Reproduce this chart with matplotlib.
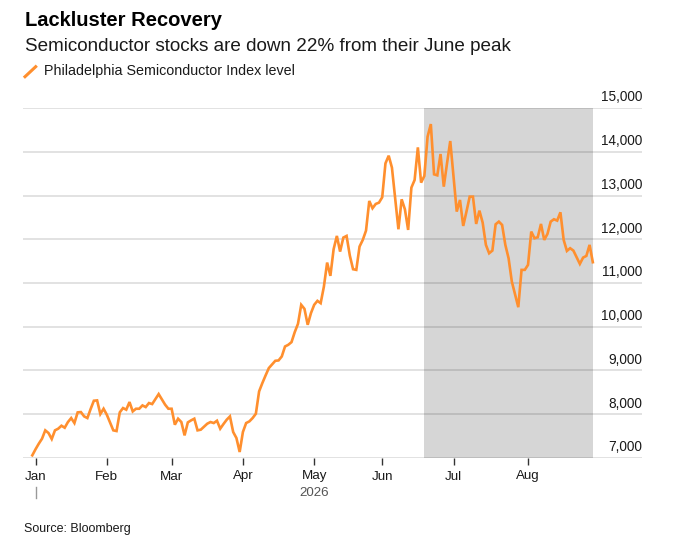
import matplotlib
matplotlib.use('Agg')
import matplotlib.pyplot as plt
import matplotlib.transforms as mtrans
from matplotlib.lines import Line2D
import numpy as np
import pandas as pd

plt.rcParams['font.family'] = ['Liberation Sans', 'DejaVu Sans']

# ---------------- data ----------------
title = "Lackluster Recovery"
subtitle = "Semiconductor stocks are down 22% from their June peak"
series_name = "Philadelphia Semiconductor Index level"
source = "Source: Bloomberg"
year_label = "2026"

start_date = "2025-12-31"   # one value per weekday from here

sox_level = [
    7061, 7200, 7327, 7441, 7632, 7571, 7434, 7632, 7670, 7738, 7692,
    7822, 7913, 7799, 8043, 8050, 7951, 7913, 8119, 8309, 8317,
    8005, 8126, 7989, 7810, 7632, 7616, 8043, 8142, 8104, 8279, 8065,
    8126, 8126, 8202, 8164, 8256, 8233, 8347, 8461, 8340, 8218, 8126,
    8126, 7761, 7898, 7822, 7517, 7814, 7860, 7898, 7632, 7647, 7715,
    7784, 7822, 7799, 7852, 7670, 7776, 7875, 7951, 7594, 7457,
    7137, 7594, 7799, 7837, 7913, 8012, 8522, 8712, 8887, 9055, 9140,
    9222, 9230, 9321, 9549, 9587, 9648, 9877, 10067, 10501, 10409,
    10044, 10311, 10501, 10592, 10539,
    10919, 11467, 11163, 11772, 12076, 11718, 12038, 12076, 11627, 11315,
    11300, 11833, 11985, 12198, 12875, 12708, 12807, 12837, 12959, 13735,
    13910, 13636, 12930, 12228, 12913, 12685, 12213, 13180, 13355, 14100, 13294,
    13446, 14344, 14633, 13484, 13461, 13948, 13202, 13735, 14245, 13431,
    12632, 12898, 12304, 12632, 12974, 12974, 12350, 12654, 12380, 11871,
    11680, 11741, 12342, 12403, 12327, 11871, 11566, 11033, 10740, 10447, 11300,
    11300, 11414, 12175, 12023, 12046, 12350, 11985, 12122, 12403, 12457,
    12426, 12616, 11985, 11733, 11795, 11741, 11590, 11437, 11581, 11619, 11871,
    11475,
]

shade_start = "2026-06-18"

y_ticks = [7000, 8000, 9000, 10000, 11000, 12000, 13000, 14000, 15000]
month_starts = ["2026-01-01", "2026-02-01", "2026-03-01", "2026-04-01",
                "2026-05-01", "2026-06-01", "2026-07-01", "2026-08-01"]
month_labels = ["Jan", "Feb", "Mar", "Apr", "May", "Jun", "Jul", "Aug"]
year_label_month = "2026-05-01"

# ---------------- style ----------------
ORANGE = "#FF8F2E"
SHADE = "#D6D6D6"
TEXT = "#1a1a1a"

dates = pd.bdate_range(start=start_date, periods=len(sox_level), freq='B')
idx = np.arange(len(dates))


def pos(day):
    """index of the first weekday on/after the given date"""
    return int(np.searchsorted(dates.values, np.datetime64(pd.Timestamp(day))))


W, H = 673, 551
fig = plt.figure(figsize=(W / 100, H / 100), dpi=100)
ax = fig.add_axes([23.3 / W, 1 - 458 / H, (642 - 23.3) / W, 350 / H])

px_per_day = 3.24
ax.set_xlim(-(32.3 - 23.3) / px_per_day, (642 - 32.3) / px_per_day)
ax.set_ylim(y_ticks[0], y_ticks[-1])

# shading
ax.axvspan(pos(shade_start), idx[-1], color=SHADE, lw=0, zorder=0)

# gridlines
for v in y_ticks:
    ax.axhline(v, color='black', alpha=0.15, lw=1.1, zorder=1)

# line
ax.plot(idx, sox_level, color=ORANGE, lw=1.9, solid_joinstyle='miter',
        zorder=3)

# y labels (right, above gridlines)
ytrans = mtrans.blended_transform_factory(ax.transAxes, ax.transData)
ytrans = mtrans.offset_copy(ytrans, fig=fig, y=6.5, units='dots')
for v in y_ticks:
    ax.text(1.0, v, f"{v:,}", transform=ytrans, ha='right', va='baseline',
            fontsize=9.8, color=TEXT)

ax.set_yticks([])
ax.set_xticks([pos(m) for m in month_starts])
ax.set_xticklabels(month_labels)
ax.tick_params(axis='x', length=5, width=1, color='#333333', pad=4,
               labelsize=9.6, labelcolor=TEXT)
for s in ax.spines.values():
    s.set_visible(False)

# year marker
btrans = mtrans.blended_transform_factory(ax.transData, fig.transFigure)
jan_pos = pos(month_starts[0])
ax.plot([jan_pos, jan_pos], [1 - 486.7 / H, 1 - 498 / H], transform=btrans,
        color='#999999', lw=1, clip_on=False)
ax.text(pos(year_label_month), 1 - 496 / H, year_label,
        transform=btrans, ha='center', va='baseline', fontsize=9.6,
        color='#555555')

# titles
fig.text(25 / W, 1 - 25.7 / H, title, fontsize=14.5, fontweight='bold',
         color='black', va='baseline', ha='left')
fig.text(25 / W, 1 - 50.7 / H, subtitle, fontsize=13.6, color=TEXT,
         va='baseline', ha='left')
fig.add_artist(Line2D([25 / W, 35.7 / W], [1 - 76.7 / H, 1 - 66.7 / H],
                      transform=fig.transFigure, color=ORANGE, lw=2.2))
fig.text(44 / W, 1 - 75.3 / H, series_name, fontsize=10.3, color=TEXT,
         va='baseline', ha='left')
fig.text(24.3 / W, 1 - 531.7 / H, source, fontsize=9, color=TEXT,
         va='baseline', ha='left')

fig.savefig('out.png', dpi=100)
